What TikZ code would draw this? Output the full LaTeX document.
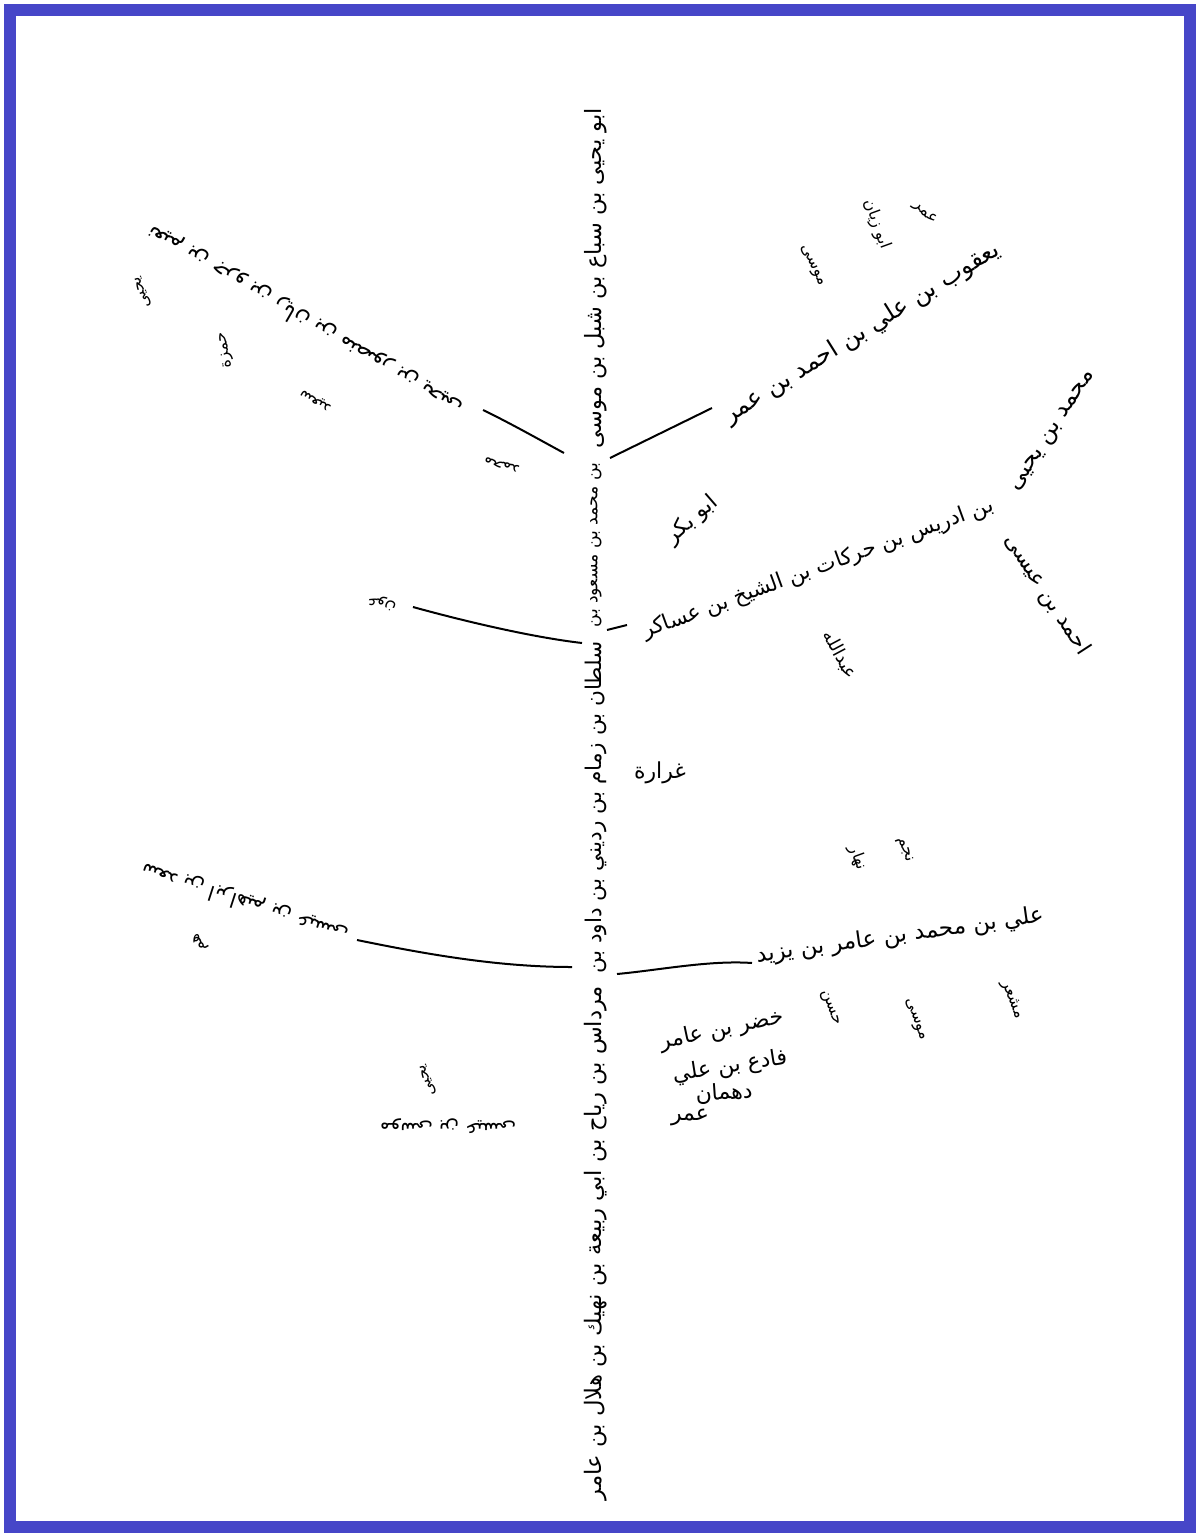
\documentclass[tikz,border=0pt]{standalone}
\usepackage{fontspec}
\usepackage{graphicx}
\newfontfamily\arabicfont[Script=Arabic]{DejaVu Sans}
\TeXXeTstate=1
\definecolor{framebl}{RGB}{70,70,200}
\begin{document}
\begin{tikzpicture}[x=0.5pt,y=-0.5pt,
  lbl/.style={inner sep=0pt, font=\arabicfont\fontsize{11}{13}\selectfont},
  sml/.style={inner sep=0pt, font=\arabicfont\fontsize{8}{10}\selectfont},
  fit/.style={inner sep=0pt, font=\arabicfont},
  branch/.style={line width=1pt, black}]
\useasboundingbox (0,0) rectangle (1200,1537);
\fill[white] (0,0) rectangle (1200,1537);
\draw[framebl, line width=6pt] (10,10) rectangle (1190,1527);

% trunk
\node[fit, rotate=90] (tA) at (596,278) {\resizebox{170pt}{!}{\beginR ابو يحيى بن سباع بن شبل بن موسى\endR}};
\node[fit, rotate=90] (tB) at (596,545) {\resizebox{82pt}{!}{\beginR بن محمد بن مسعود بن\endR}};
\node[fit, rotate=90] (tC) at (596,807) {\resizebox{166pt}{!}{\beginR سلطان بن زمام بن رديني بن داود بن\endR}};
\node[fit, rotate=90] (tD) at (596,1243) {\resizebox{257pt}{!}{\beginR مرداس بن رياح بن ابي ربيعة بن نهيك بن هلال بن عامر\endR}};

% right upper branch
\node[fit, rotate=32] (yaqub) at (862,333) {\resizebox{160pt}{!}{\beginR يعقوب بن علي بن احمد بن عمر\endR}};
\node[sml, rotate=-65] (musa1) at (812,266) {\beginR موسى\endR};
\node[sml, rotate=-70] (abuzayan) at (877,224) {\beginR ابو زيان\endR};
\node[sml, rotate=-45] (umar1) at (925,213) {\beginR عمر\endR};
\node[lbl, rotate=41] (abubakr) at (692,520) {\beginR ابو بكر\endR};

% right middle branch
\node[fit, rotate=20] (idris) at (818,569) {\resizebox{186pt}{!}{\beginR بن ادريس بن حركات بن الشيخ بن عساكر\endR}};
\node[fit, rotate=57] (muhammad) at (1054,432) {\resizebox{70pt}{!}{\beginR محمد بن يحيى\endR}};
\node[lbl, rotate=-57] (ahmad) at (1047,595) {\beginR احمد بن عيسى\endR};
\node[sml, rotate=-62] (abdallah) at (840,655) {\fontsize{9}{11}\selectfont\beginR عبدالله\endR};
\node[lbl] (ghrara) at (660,773) {\beginR غرارة\endR};

% right lower branch
\node[sml, rotate=-70] (nahar) at (858,858) {\beginR نهار\endR};
\node[sml, rotate=-70] (najm) at (905,850) {\beginR نجم\endR};
\node[fit, rotate=8] (ali) at (900,936) {\resizebox{145pt}{!}{\beginR علي بن محمد بن عامر بن يزيد\endR}};
\node[sml, rotate=-70] (hasan) at (830,1008) {\beginR حسن\endR};
\node[sml, rotate=-70] (musa2) at (915,1020) {\beginR موسى\endR};
\node[sml, rotate=-70] (mashar) at (1012,1000) {\beginR مشعر\endR};
\node[lbl, rotate=12] (khidr) at (722,1030) {\beginR خضر بن عامر\endR};
\node[lbl, rotate=9] (fadi) at (730,1067) {\beginR فادع بن علي\endR};
\node[lbl, rotate=4] (dahman) at (724,1093) {\beginR دهمان\endR};
\node[lbl] (umar2) at (690,1117) {\beginR عمر\endR};

% left upper branch (upside down)
\node[fit, rotate=150] (naim) at (305,320) {\resizebox{180pt}{!}{\beginR نعيم بن جرو بن ريان بن منصور بن يحيى\endR}};
\node[sml, rotate=110] (yahya1) at (143,292) {\beginR يحيى\endR};
\node[sml, rotate=100] (hamza) at (226,350) {\beginR حمزة\endR};
\node[sml, rotate=150] (said) at (316,400) {\beginR سعيد\endR};
\node[sml, rotate=165] (muh2) at (502,465) {\beginR محمد\endR};

% left middle
\node[sml, rotate=160] (awn) at (382,603) {\beginR عون\endR};

% left lower branch (upside down)
\node[fit, rotate=162] (saad) at (245,902) {\resizebox{108pt}{!}{\beginR سعد بن ابراهيم بن عيسى\endR}};
\node[sml, rotate=120] (hum) at (200,942) {\beginR هم\endR};
\node[sml, rotate=110] (yahya2) at (428,1080) {\beginR يحيى\endR};
\node[fit, rotate=180] (isa) at (448,1126) {\resizebox{68pt}{!}{\beginR موسى بن عيسى\endR}};

% connector end points
\coordinate (p1a) at (483,410); \coordinate (p1b) at (564,453);
\coordinate (p2a) at (610,458); \coordinate (p2b) at (712,408);
\coordinate (p3a) at (413,607); \coordinate (p3b) at (582,643);
\coordinate (p4a) at (607,630); \coordinate (p4b) at (627,625);
\coordinate (p5a) at (357,940); \coordinate (p5b) at (572,967);
\coordinate (p6a) at (617,974); \coordinate (p6b) at (752,963);

\draw[branch] (p1a) .. controls (510,423) and (540,440) .. (p1b);
\draw[branch] (p2a) -- (p2b);
\draw[branch] (p3a) .. controls (460,620) and (530,637) .. (p3b);
\draw[branch] (p4a) -- (p4b);
\draw[branch] (p5a) .. controls (430,955) and (500,967) .. (p5b);
\draw[branch] (p6a) .. controls (660,970) and (710,960) .. (p6b);
\end{tikzpicture}
\end{document}
